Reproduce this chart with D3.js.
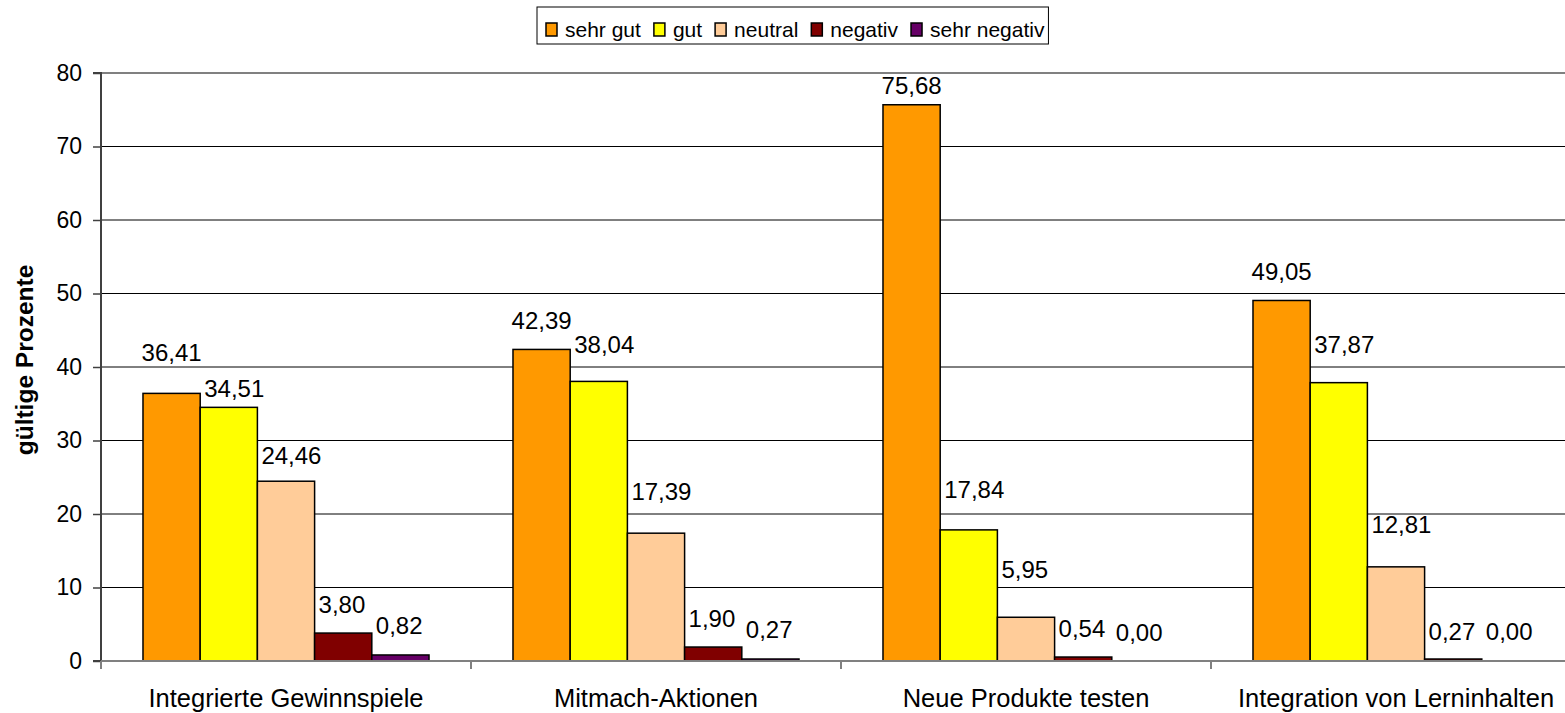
<!DOCTYPE html>
<html><head><meta charset="utf-8">
<script src="https://cdn.jsdelivr.net/npm/d3@7"></script>
<style>
body{margin:0;background:#fff}
svg{display:block;font-family:"Liberation Sans",Arial,sans-serif}
</style>
</head><body>
<svg id="chart" width="1565" height="713"></svg>
<script>
// ---------- DATA ----------
const categories = ["Integrierte Gewinnspiele", "Mitmach-Aktionen", "Neue Produkte testen", "Integration von Lerninhalten"];
const seriesNames = ["sehr gut", "gut", "neutral", "negativ", "sehr negativ"];
const sehrGut     = [36.41, 42.39, 75.68, 49.05];
const gut         = [34.51, 38.04, 17.84, 37.87];
const neutral     = [24.46, 17.39, 5.95, 12.81];
const negativ     = [3.80, 1.90, 0.54, 0.27];
const sehrNegativ = [0.82, 0.27, 0.00, 0.00];
const yTicks = [0, 10, 20, 30, 40, 50, 60, 70, 80];
const yTitle = "gültige Prozente";

// ---------- STYLE / LAYOUT ----------
const colors = ["#FF9900", "#FFFF00", "#FFCC99", "#800000", "#660066"];
const W = 1565, H = 713;
const plot = {left: 101, top: 73, bottom: 661, right: 1581};
// vertical lift (px) of each value label above its bar, per category/series
const labelLift = [[32,10,17,20,21],[20,28,33,20,21],[11,32,39,20,20],[20,30,34,19,21]];

const values = [sehrGut, gut, neutral, negativ, sehrNegativ];
const fmt = d3.formatLocale({decimal: ",", thousands: ".", grouping: [3], currency: ["", "€"]}).format(".2f");

const svg = d3.select("#chart");

const x0 = d3.scaleBand().domain(categories).range([plot.left, plot.right]).paddingInner(0).paddingOuter(0);
const x1 = d3.scaleBand().domain(seriesNames).range([0, x0.bandwidth()]).paddingInner(0).paddingOuter(0.734);
const y = d3.scaleLinear().domain([0, 80]).range([plot.bottom, plot.top]);

// gridlines
svg.append("g").selectAll("line").data(yTicks.filter(t => t > 0)).join("line")
  .attr("x1", plot.left).attr("x2", W)
  .attr("y1", d => y(d)).attr("y2", d => y(d))
  .attr("stroke", d => d === 80 ? "#808080" : "#000")
  .attr("stroke-width", d => d === 80 ? 2 : 1);

// bars
const flat = [];
categories.forEach((c, ci) => seriesNames.forEach((s, si) => flat.push({c, ci, s, si, v: values[si][ci]})));

svg.append("g").selectAll("rect").data(flat).join("rect")
  .attr("x", d => x0(d.c) + x1(d.s))
  .attr("y", d => y(d.v))
  .attr("width", x1.bandwidth())
  .attr("height", d => y(0) - y(d.v))
  .attr("fill", d => colors[d.si])
  .attr("stroke", "#000")
  .attr("stroke-width", 1.5);

// y axis
const yAxis = d3.axisLeft(y).tickValues(yTicks).tickSize(8).tickPadding(11).tickFormat(d3.format("d"));
const gy = svg.append("g").attr("transform", `translate(${plot.left},0)`).call(yAxis);
gy.attr("font-size", 23).attr("font-family", "Liberation Sans, Arial, sans-serif");
gy.select(".domain").attr("stroke", "#404040").attr("stroke-width", 2).attr("d", `M-8,${plot.top}H0V${plot.bottom}H-8`);
gy.selectAll(".tick line").attr("stroke", "#404040").attr("stroke-width", 1.5);
gy.selectAll(".tick text").attr("font-size", 23).attr("fill", "#000");

// x axis
const gx = svg.append("g").attr("transform", `translate(0,${plot.bottom})`);
gx.append("line").attr("x1", plot.left).attr("x2", W).attr("y1", 0).attr("y2", 0)
  .attr("stroke", "#808080").attr("stroke-width", 2);
gx.selectAll("line.tk").data(categories).join("line").attr("class", "tk")
  .attr("x1", d => x0(d)).attr("x2", d => x0(d)).attr("y1", 0).attr("y2", 8)
  .attr("stroke", "#808080").attr("stroke-width", 2);
gx.selectAll("text").data(categories).join("text")
  .attr("x", d => x0(d) + x0.bandwidth() / 2).attr("y", 46)
  .attr("text-anchor", "middle").attr("font-size", 25.5).attr("fill", "#000")
  .text(d => d);

// value labels
svg.append("g").selectAll("text").data(flat).join("text")
  .attr("x", d => d.si === 0 ? x0(d.c) + x1(d.s) + x1.bandwidth() / 2 : x0(d.c) + x1(d.s) + 4)
  .attr("y", d => y(d.v) - labelLift[d.ci][d.si])
  .attr("text-anchor", d => d.si === 0 ? "middle" : "start")
  .attr("font-size", 24).attr("fill", "#000")
  .text(d => fmt(d.v));

// y title
svg.append("text").attr("transform", "translate(33,360) rotate(-90)")
  .attr("text-anchor", "middle").attr("font-size", 24.5).attr("font-weight", "bold")
  .text(yTitle);

// legend
const lg = svg.append("g");
let lx = 546;
seriesNames.forEach((s, i) => {
  const g = lg.append("g");
  g.append("rect").attr("x", lx).attr("y", 23).attr("width", 11).attr("height", 13)
    .attr("fill", colors[i]).attr("stroke", "#000").attr("stroke-width", 1.5);
  const t = g.append("text").attr("x", lx + 19).attr("y", 37).attr("font-size", 21).text(s);
  const w = t.node().getComputedTextLength();
  lx = lx + 19 + w + 13;
});
const legEnd = lx - 13;
lg.insert("rect", ":first-child").attr("x", 537).attr("y", 7).attr("width", legEnd + 4 - 537).attr("height", 37)
  .attr("fill", "#fff").attr("stroke", "#000").attr("stroke-width", 1);
</script>
</body></html>
